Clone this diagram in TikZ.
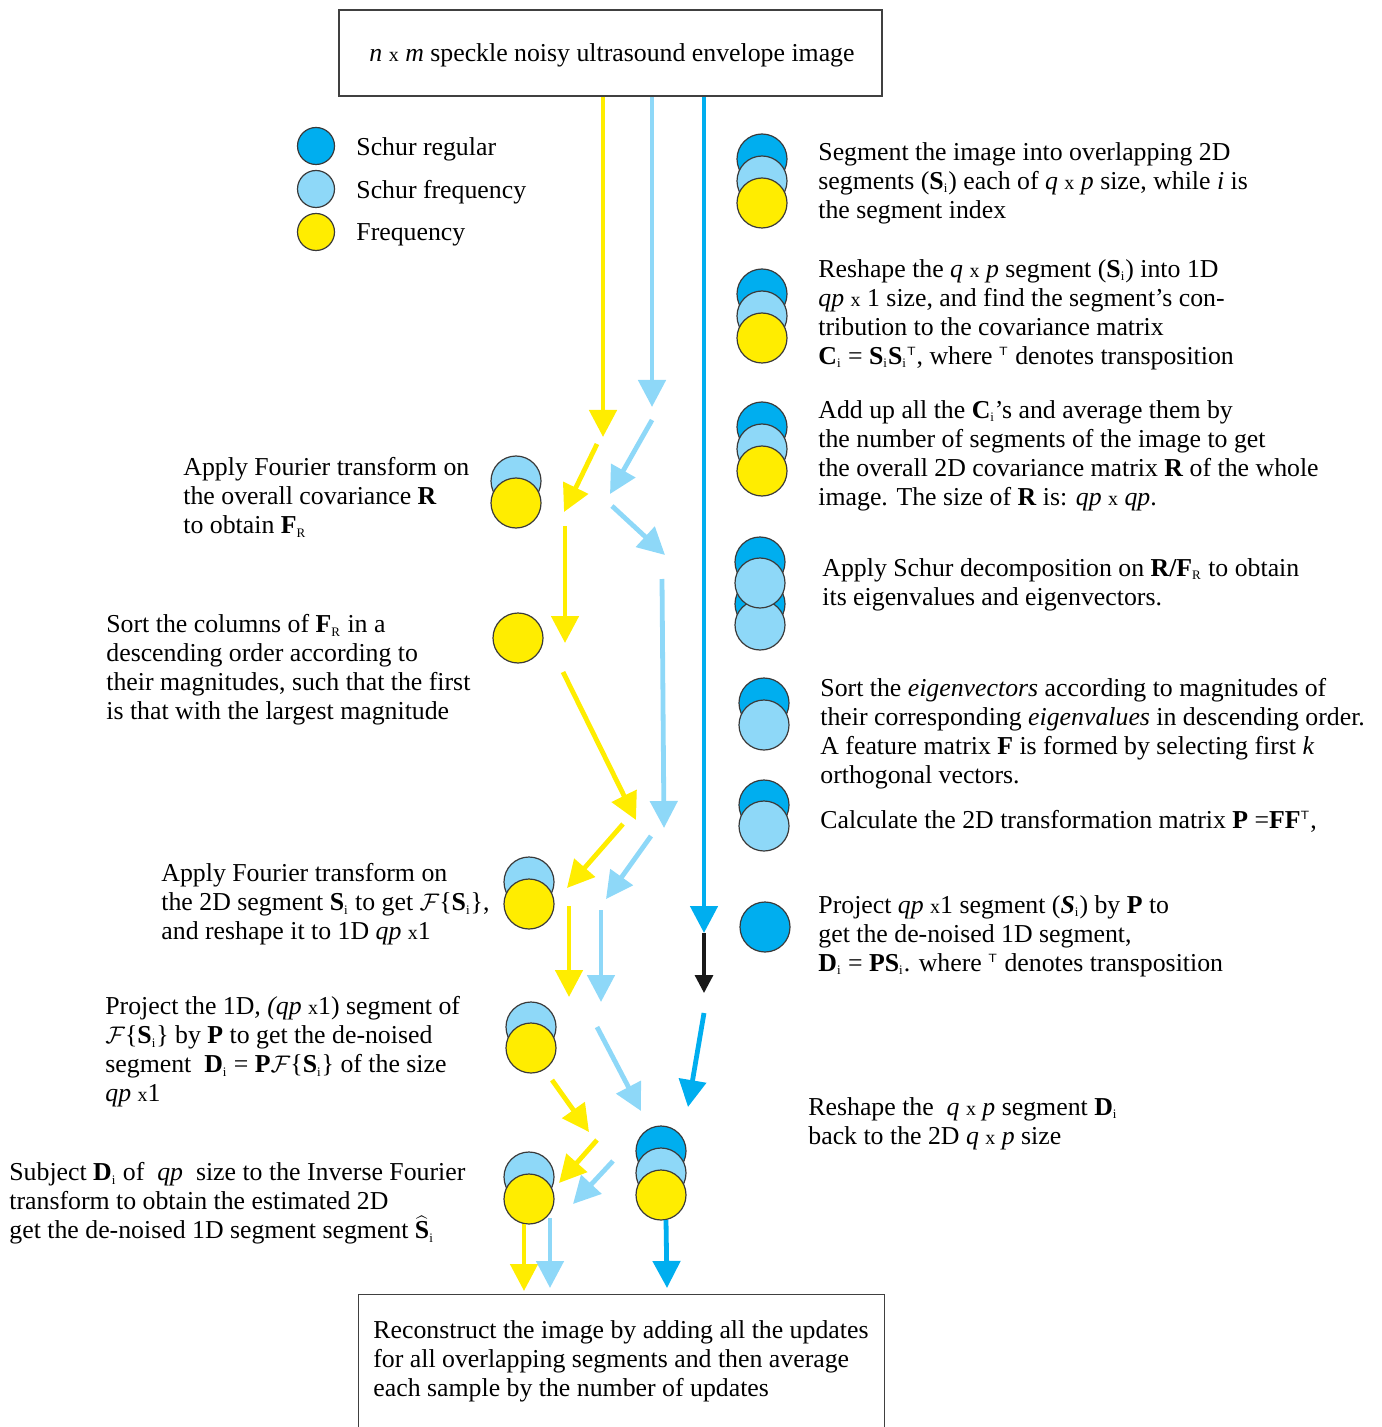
\documentclass[tikz,border=0pt]{standalone}
\usepackage{fontspec}
\setmainfont{Liberation Serif}
\usetikzlibrary{arrows.meta}
\definecolor{sreg}{HTML}{00AEEF}
\definecolor{sfreq}{HTML}{8ED8F8}
\definecolor{freq}{HTML}{FFED00}
\definecolor{edgec}{HTML}{3A3A3A}
\newcommand{\X}{{\fontsize{10}{10}\selectfont x}}
\newcommand{\subi}{\textsubscript{\fontsize{6.5}{6.5}\selectfont i}}
\newcommand{\subR}{\textsubscript{\fontsize{6.5}{6.5}\selectfont R}}
\newcommand{\supT}{\textsuperscript{\sffamily\fontsize{6}{6}\selectfont T}}
\newcommand{\Fou}{$\mathcal{F}$}
\begin{document}
\begin{tikzpicture}[x=0.5pt,y=-0.5pt,
  circ/.style={circle,draw=edgec,line width=0.6pt,minimum size=25pt,inner sep=0pt},
  lcirc/.style={circ,minimum size=18.5pt},
  dk/.style={fill=sreg},
  lt/.style={fill=sfreq},
  yl/.style={fill=freq},
  arr/.style={line width=2.4pt,-{Triangle[length=13.5pt,width=13.5pt]}},
  ya/.style={arr,draw=freq},
  la/.style={arr,draw=sfreq},
  da/.style={arr,draw=sreg},
  ka/.style={line width=1.6pt,draw=black!90,-{Triangle[length=9pt,width=9pt]}},
  txt/.style={anchor=north west,align=left,inner sep=0pt,font=\fontsize{12.9}{14.5}\selectfont},
  boxs/.style={draw=black!75,line width=0.6pt,inner sep=0pt}
]
\useasboundingbox (0,0) rectangle (1381,1427);

% boxes
\node[boxs,minimum width=271.5pt,minimum height=43pt] (top) at (610.5,53) {};
\node[txt,anchor=center] (toptxt) at (612,55) {\textit{n} \X{} \textit{m} speckle noisy ultrasound envelope image};
\node[boxs,anchor=north west,minimum width=263pt,minimum height=75pt] (bot) at (358,1294) {};
\node[txt] (bottxt) at (373,1320) {Reconstruct the image by adding all the updates\\for all overlapping segments and then average\\each sample by the number of updates};

% legend
\node[lcirc,dk] (lg1) at (316,146) {};
\node[lcirc,lt] (lg2) at (316,189) {};
\node[lcirc,yl] (lg3) at (316,232) {};
\node[txt,anchor=west] (lt1) at (356,149) {Schur regular};
\node[txt,anchor=west] (lt2) at (356,192) {Schur frequency};
\node[txt,anchor=west] (lt3) at (356,235) {Frequency};

% right stacks
\node[circ,dk] (s1a) at (762,159) {};
\node[circ,lt] (s1b) at (762,181) {};
\node[circ,yl] (s1c) at (762,203) {};
\node[circ,dk] (s2a) at (762,294) {};
\node[circ,lt] (s2b) at (762,316) {};
\node[circ,yl] (s2c) at (762,338) {};
\node[circ,dk] (s3a) at (762,427) {};
\node[circ,lt] (s3b) at (762,449) {};
\node[circ,yl] (s3c) at (762,471) {};
\node[circ,dk] (s4a) at (760,562) {};
\node[circ,dk] (s4c) at (760,604) {};
\node[circ,lt] (s4d) at (760,625) {};
\node[circ,lt] (s4b) at (760,583) {};
\node[circ,dk] (s5a) at (764,703) {};
\node[circ,lt] (s5b) at (764,725) {};
\node[circ,dk] (s6a) at (764,805) {};
\node[circ,lt] (s6b) at (764,826) {};
\node[circ,dk] (s7a) at (765,927) {};

% left stacks
\node[circ,lt] (f1a) at (516,481) {};
\node[circ,yl] (f1b) at (516,503) {};
\node[circ,yl] (f2a) at (518,638) {};
\node[circ,lt] (f3a) at (529,882) {};
\node[circ,yl] (f3b) at (529,904) {};
\node[circ,lt] (f4a) at (531,1027) {};
\node[circ,yl] (f4b) at (531,1048) {};
\node[circ,lt] (f5a) at (529,1177) {};
\node[circ,yl] (f5b) at (529,1199) {};
\node[circ,dk] (f6a) at (661,1151) {};
\node[circ,lt] (f6b) at (661,1173) {};
\node[circ,yl] (f6c) at (661,1195) {};

% right texts
\node[txt] (t1) at (818,142) {Segment the image into overlapping 2D\\segments (\textbf{S}\subi) each of \textit{q} \X{} \textit{p} size, while \textit{i} is\\the segment index};
\node[txt] (t2) at (818,259) {Reshape the \textit{q} \X{} \textit{p} segment (\textbf{S}\subi) into 1D\\\textit{qp} \X{} 1 size, and find the segment’s con-\\tribution to the covariance matrix\\\textbf{C}\subi{} = \textbf{S}\subi\textbf{S}\subi\supT, where \supT{} denotes transposition};
\node[txt] (t3) at (818,400) {Add up all the \textbf{C}\subi’s and average them by\\the number of segments of the image to get\\the overall 2D covariance matrix \textbf{R} of the whole\\image. The size of \textbf{R} is: \textit{qp} \X{} \textit{qp}.};
\node[txt] (t4) at (822,558) {Apply Schur decomposition on \textbf{R/F}\subR{} to obtain\\its eigenvalues and eigenvectors.};
\node[txt] (t5) at (820,678) {Sort the \textit{eigenvectors} according to magnitudes of\\their corresponding \textit{eigenvalues} in descending order.\\A feature matrix \textbf{F} is formed by selecting first \textit{k}\\orthogonal vectors.};
\node[txt] (t6) at (820,810) {Calculate the 2D transformation matrix \textbf{P} =\textbf{FF}\supT,};
\node[txt] (t7) at (818,895) {Project \textit{qp} \X1 segment (\textbf{\textit{S}}\subi) by \textbf{P} to\\get the de-noised 1D segment,\\\textbf{D}\subi{} = \textbf{PS}\subi. where \supT{} denotes transposition};
\node[txt] (t8) at (808,1097) {Reshape the \ \textit{q} \X{} \textit{p} segment \textbf{D}\subi\\back to the 2D \textit{q} \X{} \textit{p} size};

% left texts
\node[txt] (l1) at (183,457) {Apply Fourier transform on\\the overall covariance \textbf{R}\\to obtain \textbf{F}\subR};
\node[txt] (l2) at (106,614) {Sort the columns of \textbf{F}\subR{} in a\\descending order according to\\their magnitudes, such that the first\\is that with the largest magnitude};
\node[txt] (l3) at (161,863) {Apply Fourier transform on\\the 2D segment \textbf{S}\subi{} to get \Fou\{\textbf{S}\subi\},\\and reshape it to 1D \textit{qp} \X1};
\node[txt] (l4) at (105,996) {Project the 1D\textit{, (qp} \X1) segment of\\\Fou\{\textbf{S}\subi\} by \textbf{P} to get the de-noised\\segment \ \textbf{D}\subi{} = \textbf{P}\Fou\{\textbf{S}\subi\} of the size\\\textit{qp} \X1};
\node[txt] (l5) at (9,1162) {Subject \textbf{D}\subi{} of \ \textit{qp} \ size to the Inverse Fourier\\transform to obtain the estimated 2D\\get the de-noised 1D segment segment $\widehat{\mbox{\textbf{S}}}$\subi};

% yellow arrows
\draw[ya] (603,97) coordinate (y1s) -- (603,437) coordinate (y1e);
\draw[ya] (597,444) coordinate (y2s) -- (564,512) coordinate (y2e);
\draw[ya] (565,526) coordinate (y3s) -- (565,643) coordinate (y3e);
\draw[ya] (563,672) coordinate (y4s) -- (636,820) coordinate (y4e);
\draw[ya] (623,824) coordinate (y5s) -- (567,888) coordinate (y5e);
\draw[ya] (569,906) coordinate (y6s) -- (569,997) coordinate (y6e);
\draw[ya] (552,1080) coordinate (y7s) -- (589,1132) coordinate (y7e);
\draw[ya] (597,1140) coordinate (y8s) -- (559,1183) coordinate (y8e);
\draw[ya] (524,1224) coordinate (y9s) -- (524,1291) coordinate (y9e);

% light blue arrows
\draw[la] (652,97) coordinate (b1s) -- (652,407) coordinate (b1e);
\draw[la] (652,420) coordinate (b2s) -- (610,494) coordinate (b2e);
\draw[la] (612,506) coordinate (b3s) -- (665,555) coordinate (b3e);
\draw[la] (662,579) coordinate (b4s) -- (664,828) coordinate (b4e);
\draw[la] (651,836) coordinate (b5s) -- (606,899) coordinate (b5e);
\draw[la] (601,910) coordinate (b6s) -- (601,1002) coordinate (b6e);
\draw[la] (597,1027) coordinate (b7s) -- (641,1111) coordinate (b7e);
\draw[la] (613,1161) coordinate (b8s) -- (573,1204) coordinate (b8e);
\draw[la] (550,1218) coordinate (b9s) -- (550,1288) coordinate (b9e);

% dark blue arrows
\draw[da] (704,97) coordinate (d1s) -- (704,933) coordinate (d1e);
\draw[ka] (d1e) -- (704,993) coordinate (k1e);
\draw[da] (704,1013) coordinate (d2s) -- (688,1107) coordinate (d2e);
\draw[da] (666,1220) coordinate (d3s) -- (667,1288) coordinate (d3e);
\end{tikzpicture}
\end{document}
